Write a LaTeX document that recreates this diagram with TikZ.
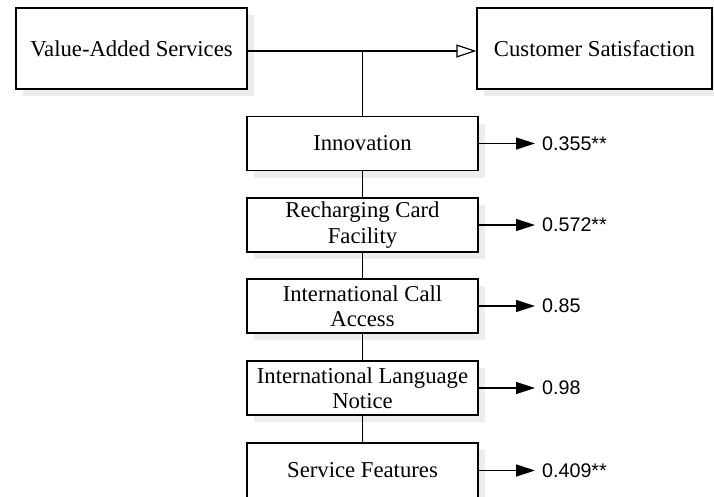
\documentclass[tikz,border=0pt]{standalone}
\usepackage{fontspec}
\setmainfont{Liberation Serif}
\newfontfamily\numfont{Liberation Sans}
\usetikzlibrary{arrows.meta,shadows,calc}
\begin{document}
\begin{tikzpicture}[x=1pt,y=-1pt,
  box/.style={draw, line width=1.3pt, fill=white, minimum width=231pt, minimum height=54pt,
    align=center, inner sep=0pt, font=\fontsize{22.7}{25.5}\selectfont,
    drop shadow={shadow xshift=7pt, shadow yshift=-7pt, fill=black!7, opacity=1}},
  bigbox/.style={box, minimum height=81pt},
  conn/.style={line width=1.2pt},
  openarr/.style={conn, -{Triangle[open, length=20pt, width=13pt, line width=1.2pt]}},
  solidarr/.style={conn, -{Triangle[length=19pt, width=12pt]}},
  val/.style={anchor=west, inner sep=0pt, font=\numfont\fontsize{19.7}{22}\selectfont}]
\useasboundingbox (0,0) rectangle (714,496);

\node[bigbox] (vas) at (131.5,48.5) {Value-Added Services};
\node[bigbox, minimum width=235pt] (cs) at (594.5,48.5) {Customer Satisfaction};

\node[box] (inn) at (362.5,143.5) {Innovation};
\node[box] (rcf) at (362.5,225) {Recharging Card\\Facility};
\node[box] (ica) at (362.5,306) {International Call\\Access};
\node[box] (iln) at (362.5,388) {International Language\\Notice};
\node[box, minimum height=55pt] (sf) at (362.5,470.5) {Service Features};

\coordinate (a) at ($(vas.east)+(0,2.5)$);
\draw[openarr] (a) -- (a -| cs.west);
\draw[conn] (a -| inn.north) -- (inn.north);
\draw[conn] (inn.south) -- (rcf.north);
\draw[conn] (rcf.south) -- (ica.north);
\draw[conn] (ica.south) -- (iln.north);
\draw[conn] (iln.south) -- (sf.north);

\node[val] (v1) at (542,143.5) {0.355**};
\node[val] (v2) at (542,225) {0.572**};
\node[val] (v3) at (542,306) {0.85};
\node[val] (v4) at (542,388) {0.98};
\node[val] (v5) at (542,470.5) {0.409**};

\coordinate (e1) at (535,143.5);
\coordinate (e2) at (535,225);
\coordinate (e3) at (535,306);
\coordinate (e4) at (535,388);
\coordinate (e5) at (535,470.5);
\draw[solidarr] (inn.east) -- (e1);
\draw[solidarr] (rcf.east) -- (e2);
\draw[solidarr] (ica.east) -- (e3);
\draw[solidarr] (iln.east) -- (e4);
\draw[solidarr] (sf.east) -- (e5);
\end{tikzpicture}
\end{document}
